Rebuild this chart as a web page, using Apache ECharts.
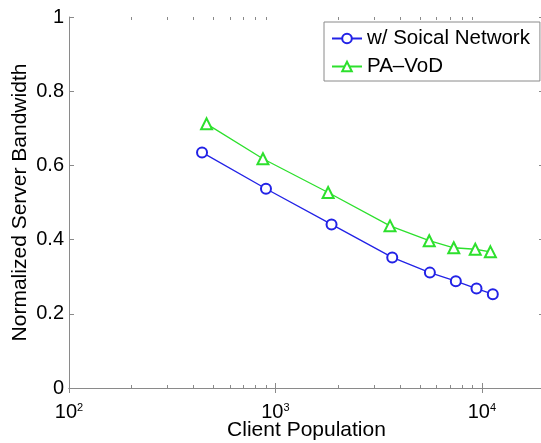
<!DOCTYPE html>
<html><head><meta charset="utf-8">
<script src="https://cdn.jsdelivr.net/npm/echarts@6/dist/echarts.min.js"></script>
<style>html,body{margin:0;padding:0;background:#fff}#c{width:541px;height:443px}</style>
</head><body><div id="c"></div>
<script>
const seriesNames = ['w/ Soical Network', 'PA\u2013VoD'];
const socialX = [441, 900, 1870, 3680, 5600, 7480, 9420, 11300];
const socialY = [0.635, 0.537, 0.441, 0.352, 0.311, 0.288, 0.268, 0.253];
const pavodX = [464, 870, 1800, 3590, 5560, 7310, 9290, 11000];
const pavodY = [0.712, 0.618, 0.527, 0.437, 0.397, 0.378, 0.374, 0.367];
const xMin = 100, xMax = 20000;
const yTicks = [0, 0.2, 0.4, 0.6, 0.8, 1];
const minorTicks = [200,300,400,500,600,700,800,900,2000,3000,4000,5000,6000,7000,8000,9000];

const FONT = 'Liberation Sans, Arial, Helvetica, sans-serif';
const BLUE = '#2222e6', GREEN = '#2de02d', AXIS = '#8a8a8a';

const chart = echarts.init(document.getElementById('c'));
const pair = (xs, ys) => xs.map((x, i) => [x, ys[i]]);
const logAxisBase = {
  type: 'log', logBase: 10, min: xMin, max: xMax,
  axisLine: { show: true, lineStyle: { color: AXIS, width: 1 } },
  axisTick: { show: true, inside: true, length: 5, lineStyle: { color: AXIS } },
  splitLine: { show: false }, minorTick: { show: false }
};
chart.setOption({
  animation: false,
  backgroundColor: '#fff',
  grid: { left: 69, top: 17, width: 475, height: 371, containLabel: false, outerBoundsMode: 'none' },
  legend: {
    orient: 'vertical', left: 324, top: 22,
    data: seriesNames,
    itemWidth: 30, itemHeight: 12, itemGap: 7,
    padding: [6, 10, 4, 7],
    borderColor: AXIS, borderWidth: 1, backgroundColor: '#fff',
    textStyle: { fontFamily: FONT, fontSize: 20.5, color: '#000', padding: [0, 0, 0, 0] }
  },
  xAxis: [
    Object.assign({}, logAxisBase, {
      position: 'bottom',
      name: 'Client Population', nameLocation: 'middle', nameGap: 32, nameMoveOverlap: false,
      nameTextStyle: { fontFamily: FONT, fontSize: 21, color: '#000' },
      axisLabel: {
        margin: 14, fontFamily: FONT, color: '#000', showMaxLabel: false,
        formatter: v => '{b|10}{s|' + Math.round(Math.log10(v)) + '}',
        rich: {
          b: { fontFamily: FONT, fontSize: 20, lineHeight: 20, verticalAlign: 'bottom', color: '#000' },
          s: { fontFamily: FONT, fontSize: 11, lineHeight: 11, padding: [0, 0, 12, 0], verticalAlign: 'top', color: '#000' }
        }
      }
    }),
    Object.assign({}, logAxisBase, { position: 'top', axisLabel: { show: false } })
  ],
  yAxis: [{
    type: 'value', min: 0, max: 1, interval: 0.2,
    name: 'Normalized Server Bandwidth', nameLocation: 'middle', nameGap: 38, nameRotate: 90, nameMoveOverlap: false,
    nameTextStyle: { fontFamily: FONT, fontSize: 21, color: '#000' },
    axisLine: { show: true, lineStyle: { color: AXIS } },
    axisTick: { show: true, inside: true, length: 5, lineStyle: { color: AXIS } },
    splitLine: { show: false },
    axisLabel: { margin: 5, fontFamily: FONT, fontSize: 20, color: '#000',
      formatter: v => (yTicks.includes(+v.toFixed(1)) ? String(+v.toFixed(1)) : '') }
  }, {
    type: 'value', min: 0, max: 1, interval: 0.2, position: 'right',
    axisLine: { show: true, lineStyle: { color: AXIS } },
    axisTick: { show: true, inside: true, length: 5, lineStyle: { color: AXIS } },
    axisLabel: { show: false }, splitLine: { show: false }
  }],
  series: [
    {
      name: seriesNames[0], type: 'line', data: pair(socialX, socialY),
      symbol: 'emptyCircle', symbolSize: 10,
      lineStyle: { color: BLUE, width: 1.3 },
      itemStyle: { color: BLUE, borderColor: BLUE, borderWidth: 1.3 },
      z: 3
    },
    {
      name: seriesNames[1], type: 'line', data: pair(pavodX, pavodY),
      symbol: 'emptyTriangle', symbolSize: 11,
      lineStyle: { color: GREEN, width: 1.3 },
      itemStyle: { color: GREEN, borderColor: GREEN, borderWidth: 1.3 },
      z: 3
    },
    {
      name: 'minorTicks', type: 'custom', data: minorTicks.map(v => [v, 0]),
      encode: { x: 0, y: 1 }, silent: true, clip: false, z: 1,
      renderItem: (params, api) => {
        const b = api.coord([api.value(0), 0]);
        const t = api.coord([api.value(0), 1]);
        const x = Math.round(b[0]) + 0.5;
        return { type: 'group', children: [
          { type: 'line', shape: { x1: x, y1: b[1], x2: x, y2: b[1] - 3 }, style: { stroke: AXIS, lineWidth: 1 } },
          { type: 'line', shape: { x1: x, y1: t[1], x2: x, y2: t[1] + 3 }, style: { stroke: AXIS, lineWidth: 1 } }
        ] };
      }
    }
  ]
});
</script></body></html>
